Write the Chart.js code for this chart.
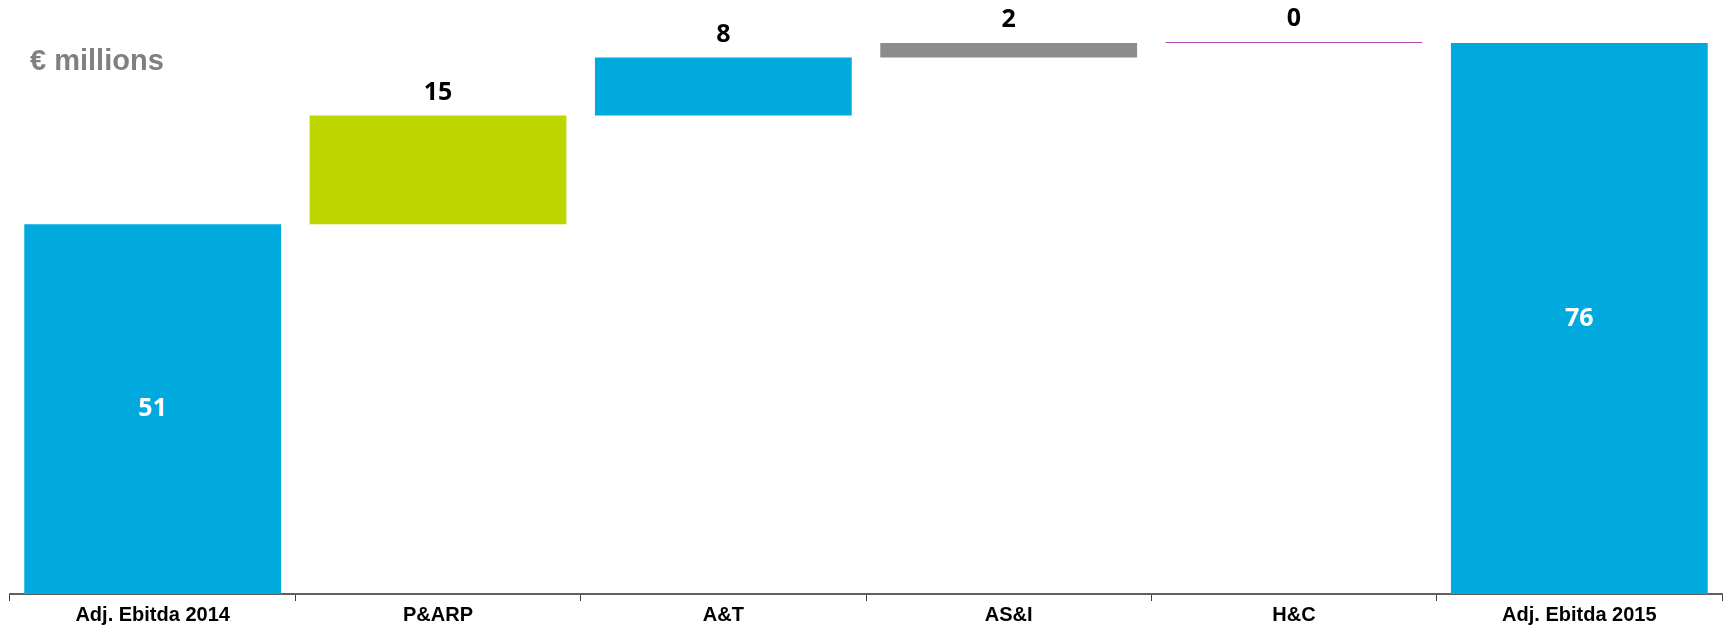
<!DOCTYPE html>
<html>
<head>
<meta charset="utf-8">
<script src="https://cdn.jsdelivr.net/npm/chart.js@4/dist/chart.umd.min.js"></script>
<style>
  body { margin: 0; background: #fff; }
  #wrap { width: 1725px; height: 629px; position: relative; }
</style>
</head>
<body>
<div id="wrap"><canvas id="myChart"></canvas></div>
<script>
// data
const categories = ['Adj. Ebitda 2014', 'P&ARP', 'A&T', 'AS&I', 'H&C', 'Adj. Ebitda 2015'];
const values = [51, 15, 8, 2, 0, 76];
const isTotal = [true, false, false, false, false, true];
const barColors = ['#00AADF', '#BDD600', '#00AADF', '#8C8C8C', '#B04AAE', '#00AADF'];
const unitLabel = '€ millions';

// waterfall ranges
let running = 0;
const ranges = values.map((v, i) => {
  if (isTotal[i]) { running = v; return [0, v]; }
  const r = [running, running + v];
  running += v;
  return r;
});

const labelPlugin = {
  id: 'waterfallLabels',
  afterDatasetsDraw(chart) {
    const ctx = chart.ctx;
    const meta = chart.getDatasetMeta(0);
    ctx.save();
    ctx.textAlign = 'center';
    ctx.textBaseline = 'middle';
    ctx.font = 'bold 25px "Open Sans"';
    meta.data.forEach((bar, i) => {
      const top = Math.min(bar.y, bar.base);
      const bottom = Math.max(bar.y, bar.base);
      if (isTotal[i]) {
        ctx.fillStyle = '#ffffff';
        ctx.fillText(values[i], bar.x, (top + bottom) / 2);
      } else {
        ctx.fillStyle = '#000000';
        ctx.fillText(values[i], bar.x, top - 23);
      }
    });
    // unit caption
    ctx.textAlign = 'left';
    ctx.font = 'bold 29px "Liberation Sans"';
    ctx.fillStyle = '#808080';
    ctx.fillText(unitLabel, 30, 62);
    ctx.restore();
  }
};

const ctx = document.getElementById('myChart');

new Chart(ctx, {
  type: 'bar',
  data: {
    labels: categories,
    datasets: [{
      data: ranges,
      backgroundColor: barColors,
      borderWidth: 0,
      minBarLength: 1,
      barPercentage: 0.9,
      categoryPercentage: 1
    }]
  },
  options: {
    responsive: true,
    maintainAspectRatio: false,
    animation: false,
    layout: { padding: { top: 14, left: 10, right: 3, bottom: 0 } },
    plugins: {
      legend: false,
      tooltip: { enabled: false }
    },
    scales: {
      y: {
        display: false,
        min: 0,
        max: 80
      },
      x: {
        grid: {
          offset: true,
          drawOnChartArea: false,
          tickLength: 7,
          color: '#404040'
        },
        border: { color: '#606060', width: 2 },
        ticks: {
          color: '#000',
          padding: 2,
          font: { family: '"Liberation Sans Narrow", "Liberation Sans"', weight: 'bold', size: 20 }
        }
      }
    }
  },
  plugins: [labelPlugin]
});
</script>
</body>
</html>
